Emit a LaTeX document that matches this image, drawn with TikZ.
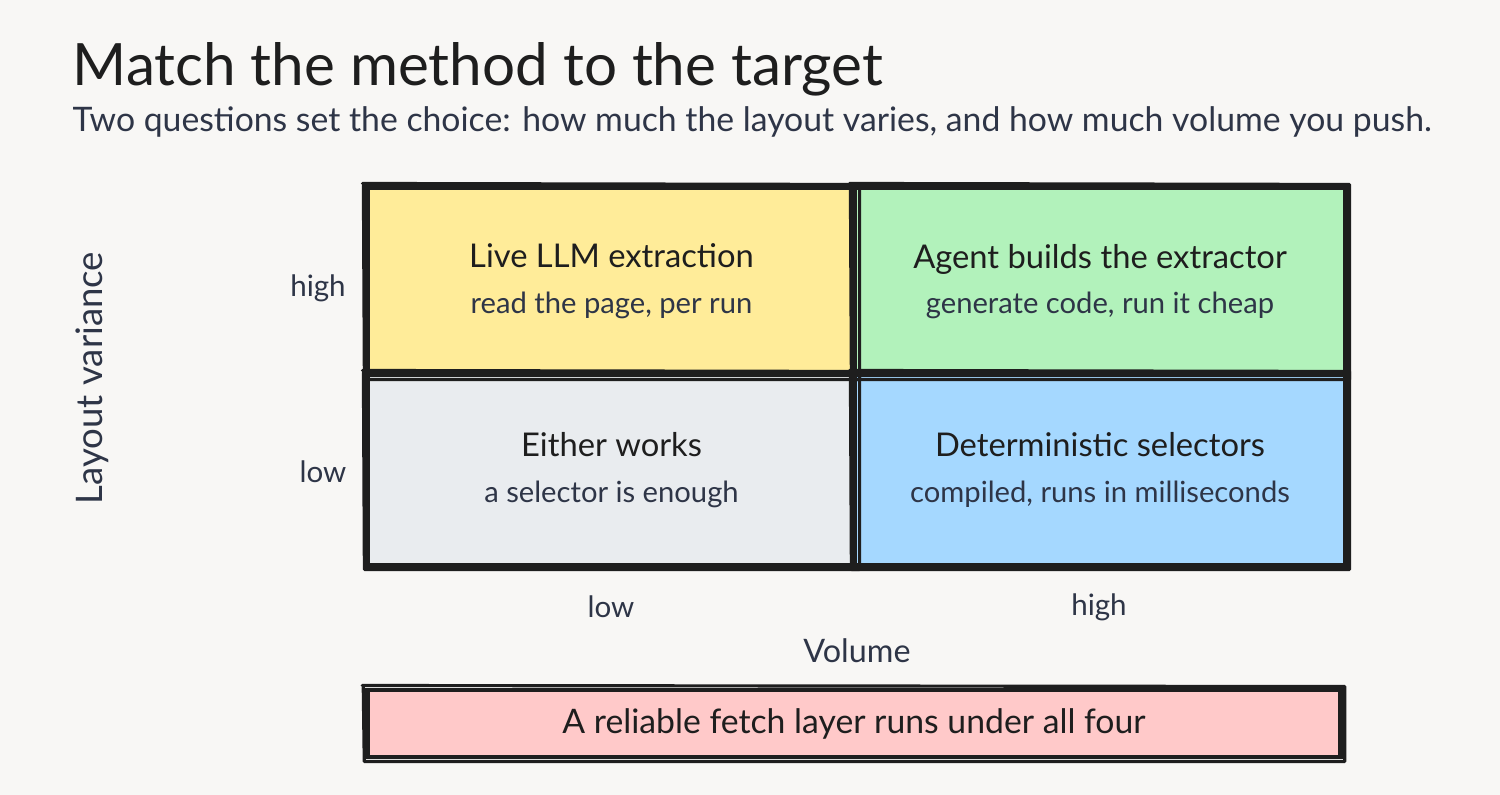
\documentclass[tikz,border=0pt]{standalone}
\usepackage{fontspec}
\setmainfont{Lato}
\usetikzlibrary{positioning}

\definecolor{paper}{HTML}{F8F7F5}
\definecolor{ink}{HTML}{1E1E1E}
\definecolor{slate}{HTML}{2E3547}
\definecolor{cellyellow}{HTML}{FFEC99}
\definecolor{cellgreen}{HTML}{B2F2BB}
\definecolor{cellgray}{HTML}{E9ECEF}
\definecolor{cellblue}{HTML}{A5D8FF}
\definecolor{cellpink}{HTML}{FFC9C9}

\tikzset{
	cell/.style={draw=ink, line width=1.4pt, inner sep=0pt, align=center, text=ink, font=\fontsize{9.3pt}{11pt}\selectfont},
	rough/.style={draw=ink, line width=0.9pt, line join=round, line cap=round},
	axislabel/.style={text=slate, font=\fontsize{8.4pt}{10pt}\selectfont},
	head/.style={font=\fontsize{9.2pt}{11pt}\selectfont},
}

\begin{document}
\begin{tikzpicture}[x=0.01cm, y=-0.01cm]
	\useasboundingbox (0,0) rectangle (1500,795);
	\fill[paper] (0,0) rectangle (1500,795);

	% title
	\node[anchor=base west, inner sep=0pt, text=ink, font=\fontsize{16.6pt}{19pt}\selectfont] (title) at (72,86) {Match the method to the target};
	\node[anchor=base west, inner sep=0pt, text=slate, font=\fontsize{9.6pt}{12pt}\selectfont] (subtitle) at (72,132) {Two questions set the choice: how much the layout varies, and how much volume you push.};

	% the four cells
	\node[cell, fill=cellyellow, minimum width=4.87cm, minimum height=1.87cm] (tl) at (611.5,281.5)
		{Live LLM extraction\\[2pt]{\color{slate}\fontsize{8.3pt}{10pt}\selectfont read the page, per run}};
	\node[cell, fill=cellgreen, minimum width=4.90cm, minimum height=1.87cm] (tr) at (1100,281.5)
		{Agent builds the extractor\\[2pt]{\color{slate}\fontsize{8.3pt}{10pt}\selectfont generate code, run it cheap}};
	\node[cell, fill=cellgray, minimum width=4.87cm, minimum height=1.90cm] (bl) at (611.5,470)
		{Either works\\[2pt]{\color{slate}\fontsize{8.3pt}{10pt}\selectfont a selector is enough}};
	\node[cell, fill=cellblue, minimum width=4.90cm, minimum height=1.90cm] (br) at (1100,470)
		{Deterministic selectors\\[2pt]{\color{slate}\fontsize{8.3pt}{10pt}\selectfont compiled, runs in milliseconds}};

	% fetch layer
	\node[cell, fill=cellpink, minimum width=9.72cm, minimum height=0.67cm, font=\fontsize{9.6pt}{11pt}\selectfont] (fetch) at (854,723.5) {A reliable fetch layer runs under all four};

	% sketchy second strokes
	\foreach \c in {tl,tr,bl,br,fetch} {
		\draw[rough] ([shift={(-3,-2)}]\c.north west) -- ([shift={(2,-1)}]\c.north east) -- ([shift={(2,2)}]\c.south east) -- ([shift={(-1,2)}]\c.south west) -- ([shift={(-2,0)}]\c.north west);
	}

	% axes
	\node[axislabel] (vhigh) at (318,288) {high};
	\node[axislabel] (vlow) at (323,472) {low};
	\node[axislabel] (hlow) at (611,607) {low};
	\node[axislabel] (hhigh) at (1099,607) {high};
	\node[axislabel, head] (volume) at (857,651) {Volume};
	\node[axislabel, head, font=\fontsize{10.4pt}{12pt}\selectfont, rotate=90] (variance) at (92,378) {Layout variance};
\end{tikzpicture}
\end{document}
